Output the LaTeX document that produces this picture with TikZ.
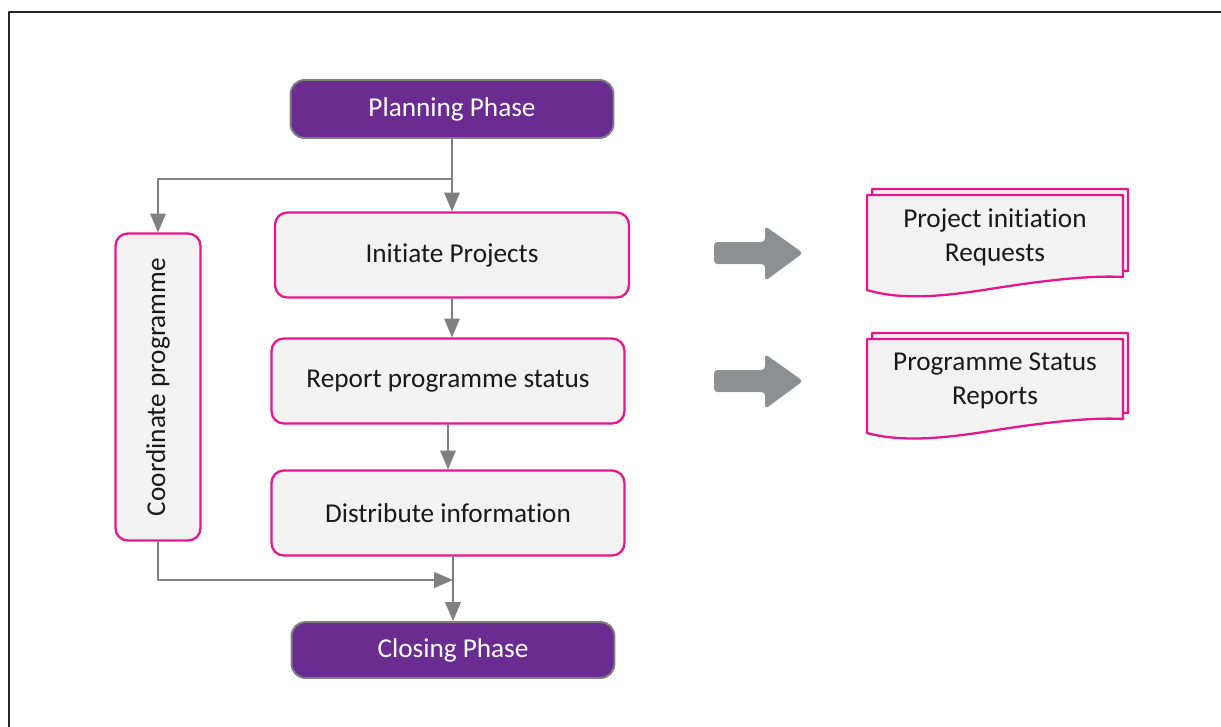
\documentclass[tikz,border=0pt]{standalone}
\usepackage{fontspec}
\setmainfont{Carlito}[Ligatures={NoCommon}]
\usepackage{tikz}
\usetikzlibrary{arrows}

\definecolor{phasefill}{HTML}{6A2C91}
\definecolor{phaseline}{HTML}{7F7F7F}
\definecolor{pinkline}{HTML}{E8168C}
\definecolor{boxfill}{HTML}{F2F2F2}
\definecolor{flowgray}{HTML}{808080}
\definecolor{bigarrow}{HTML}{8D8F92}
\definecolor{framegray}{HTML}{262626}

\tikzset{
  label text/.style={font=\fontsize{15.5}{19.3}\selectfont},
  phasebox/.style={label text, draw=phaseline, line width=1.1pt, fill=phasefill, text=white,
    rounded corners=8pt, minimum width=6.46cm, minimum height=1.16cm, inner sep=0pt},
  stepbox/.style={label text, draw=pinkline, line width=1.3pt, fill=boxfill, text=black!90,
    rounded corners=7pt, minimum width=7.06cm, minimum height=1.7cm, inner sep=0pt},
  docsheet/.style={draw=pinkline, line width=1.3pt, fill=boxfill},
  doctext/.style={label text, text=black!90, align=center},
  flow/.style={draw=flowgray, line width=1.5pt}
}

\begin{document}
\begin{tikzpicture}[x=0.02cm,y=-0.02cm,line cap=round,line join=round,>=triangle 45]
\useasboundingbox (0,0) rectangle (1221,727);
% frame
\draw[framegray, line width=1.7pt, line cap=butt] (9,727) -- (9,12) -- (1221,12);

% phases and steps
\node[phasebox] (plan) at (452,109) {Planning Phase};
\node[stepbox, minimum width=7.08cm] (init) at (452,255) {Initiate Projects};
\node[stepbox] (report) at (448,381) {Report programme status};
\node[stepbox] (dist) at (448,513) {Distribute information};
\node[phasebox, minimum height=1.12cm] (close) at (453,650) {Closing Phase};
\node[stepbox, rotate=90, minimum width=6.14cm] (coord) at (158,387) {Coordinate programme};

% connectors
\path (plan.south) ++(0,40) coordinate (fork);
\coordinate (join) at (453,580);
\draw[flow,->] (plan.south) -- (init.north);
\draw[flow,->] (fork) -| (coord.east);
\draw[flow,->] (init.south) -- (init.south |- report.north);
\draw[flow,->] (report.south) -- (dist.north);
\draw[flow,->] (dist.south -| close.north) -- (close.north);
\draw[flow,->] (coord.west) |- (join);

% outputs
\fill[bigarrow, rounded corners=2pt] (714,242) -- (765,242) -- (765,226) -- (803,253) -- (765,281) -- (765,264) -- (714,264) -- cycle;
\fill[bigarrow, rounded corners=2pt] (714,370) -- (765,370) -- (765,354) -- (803,381) -- (765,409) -- (765,392) -- (714,392) -- cycle;

\begin{scope}[shift={(5,-6)}]
\draw[docsheet] (867,195) -- (1123,195) -- (1123,277) .. controls (1090,275) and (1040,281) .. (990,289) .. controls (940,297) and (900,300) .. (867,290) -- cycle;
\end{scope}
\draw[docsheet] (867,195) -- (1123,195) -- (1123,277) .. controls (1090,275) and (1040,281) .. (990,289) .. controls (940,297) and (900,300) .. (867,290) -- cycle;
\node[doctext] (requests) at (995,237) {Project initiation\\Requests};

\begin{scope}[shift={(5,-6)}]
\draw[docsheet] (867,339) -- (1123,339) -- (1123,419) .. controls (1090,417) and (1040,423) .. (990,431) .. controls (940,439) and (900,442) .. (867,433) -- cycle;
\end{scope}
\draw[docsheet] (867,339) -- (1123,339) -- (1123,419) .. controls (1090,417) and (1040,423) .. (990,431) .. controls (940,439) and (900,442) .. (867,433) -- cycle;
\node[doctext] (statusrep) at (995,381) {Programme Status\\Reports};
\end{tikzpicture}
\end{document}
